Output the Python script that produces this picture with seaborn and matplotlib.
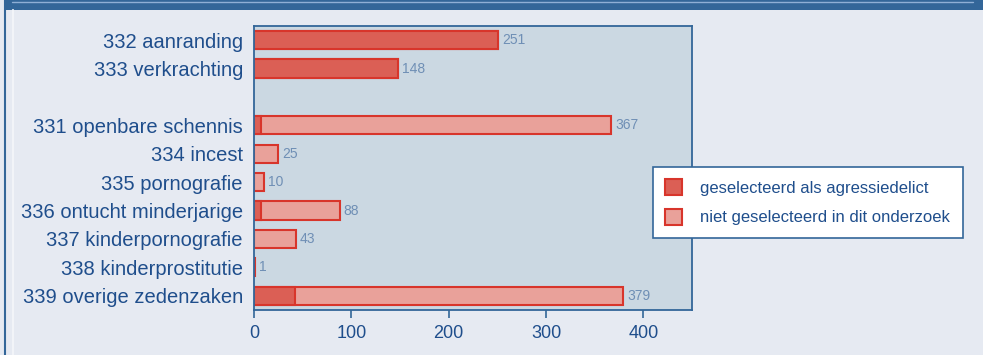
import numpy as np
import pandas as pd
import seaborn as sns
import matplotlib.pyplot as plt
from matplotlib.patches import Patch, Rectangle
from matplotlib.lines import Line2D
from matplotlib import font_manager

# data
categories = ['332 aanranding', '333 verkrachting', '331 openbare schennis', '334 incest',
              '335 pornografie', '336 ontucht minderjarige', '337 kinderpornografie',
              '338 kinderprostitutie', '339 overige zedenzaken']
totals = [251, 148, 367, 25, 10, 88, 43, 1, 379]
selected = [251, 148, 7, 0, 0, 7, 0, 0, 42]
order = categories[:2] + [''] + categories[2:]

legend_labels = ['geselecteerd als agressiedelict', 'niet geselecteerd in dit onderzoek']

# colours
fig_bg = '#E6EAF2'
ax_bg = '#CBD8E2'
navy = '#336699'
text_blue = '#1F4E8C'
value_blue = '#6F8FB5'
dark_fill = '#DB5F55'
light_fill = '#E9A19A'
edge_red = '#D8352B'

sns.set_theme(style='white')
plt.rcParams['font.family'] = ['Liberation Sans', 'DejaVu Sans']

names = {f.name for f in font_manager.fontManager.ttflist}
narrow = 'Liberation Sans Narrow' if 'Liberation Sans Narrow' in names else 'Liberation Sans'

df_tot = pd.DataFrame({'cat': categories, 'val': totals})
df_sel = pd.DataFrame({'cat': categories, 'val': selected})
df_sel = df_sel[df_sel['val'] > 0]

fig = plt.figure(figsize=(9.83, 3.55), dpi=100)
fig.patch.set_facecolor(fig_bg)

# frame decoration of the page
fig.add_artist(Rectangle((0.004, 0.972), 0.996, 0.028, transform=fig.transFigure,
                         facecolor=navy, edgecolor='none'))
fig.add_artist(Line2D([0.012, 0.99], [0.995, 0.995], transform=fig.transFigure,
                      color='#8FAFD6', lw=1))
fig.add_artist(Line2D([0.005, 0.005], [0, 1], transform=fig.transFigure, color=navy, lw=1.5))
fig.add_artist(Line2D([0.013, 0.013], [0, 0.972], transform=fig.transFigure,
                      color='#F2F4F8', lw=1.5))

ax = fig.add_axes([0.2584, 0.1268, 0.4456, 0.8])
ax.set_facecolor(ax_bg)

sns.barplot(data=df_tot, y='cat', x='val', order=order, orient='h', color=light_fill,
            saturation=1, width=0.64, edgecolor=edge_red, linewidth=1.5, ax=ax)
sns.barplot(data=df_sel, y='cat', x='val', order=order, orient='h', color=dark_fill,
            saturation=1, width=0.64, edgecolor=edge_red, linewidth=1.5, ax=ax)

for cat, v in zip(categories, totals):
    ax.annotate(str(v), (v, order.index(cat)), xytext=(3, 0), textcoords='offset points',
                va='center', ha='left', color=value_blue, fontsize=10)

ax.set_xlim(0, 450)
ax.set_ylim(9.5, -0.5)
ax.set_xticks([0, 100, 200, 300, 400])
ax.set_xlabel('')
ax.set_ylabel('')
ax.tick_params(axis='x', direction='out', length=6, width=1.2, color=navy,
               labelcolor=text_blue, labelsize=13, pad=5, bottom=True)
ax.tick_params(axis='y', length=0, labelcolor=text_blue, labelsize=14.5, pad=8)
for lbl in ax.get_xticklabels():
    lbl.set_family([narrow, 'DejaVu Sans'])
for s in ax.spines.values():
    s.set_color(navy)
    s.set_linewidth(1.3)
    s.set_visible(True)

handles = [Patch(facecolor=dark_fill, edgecolor=edge_red, linewidth=1.5),
           Patch(facecolor=light_fill, edgecolor=edge_red, linewidth=1.5)]
leg = fig.legend(handles, legend_labels, loc='upper left', bbox_to_anchor=(0.664, 0.53),
                 frameon=True, fancybox=False, framealpha=1, fontsize=12, handlelength=1.0,
                 handleheight=1.1, handletextpad=1.1, labelspacing=0.75, borderpad=0.75,
                 borderaxespad=0)
leg.get_frame().set_edgecolor(navy)
leg.get_frame().set_linewidth(1.2)
leg.get_frame().set_facecolor('white')
for t in leg.get_texts():
    t.set_color(text_blue)

fig.savefig('out.png', dpi=100, facecolor=fig_bg)
